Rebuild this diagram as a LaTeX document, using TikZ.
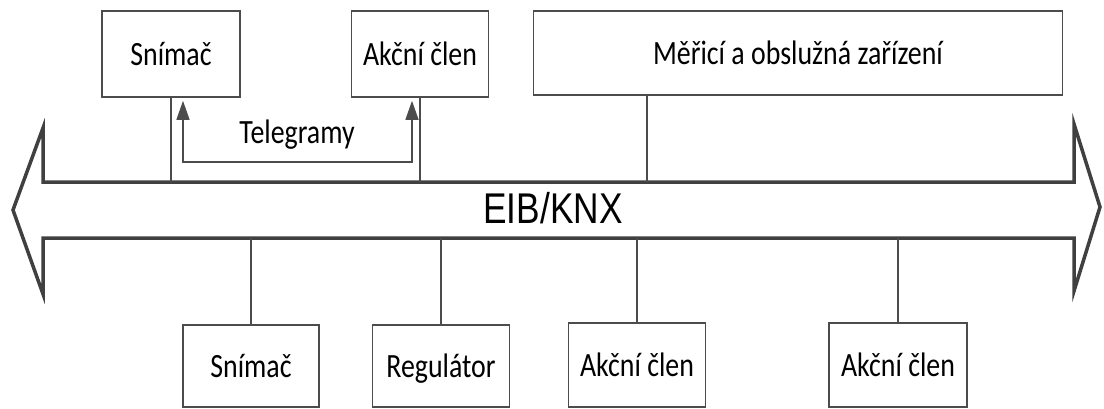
\documentclass[tikz,border=0pt]{standalone}
\usepackage{fontspec}
\setmainfont{Carlito}[FakeStretch=0.82]
\newfontfamily\busfont{Liberation Sans}[FakeStretch=0.82]
\usetikzlibrary{arrows.meta}

\begin{document}
\begin{tikzpicture}
		[x=1pt, y=-1pt,
		every node/.style={draw=black!70,line width=1.6pt,inner sep=0pt,font=\fontsize{34}{40}\selectfont},
		unit/.style={minimum width=137pt,minimum height=84pt,text height=22pt,text depth=0pt},
		link/.style={draw=black!70,line width=1.4pt},
		tele/.style={link,{Triangle[width=13pt,length=19pt]}-{Triangle[width=13pt,length=19pt]}},
		bus/.style={draw=black!75,line width=3.5pt,line join=miter}]
		\useasboundingbox (0,0) rectangle (1104,408);
		\draw[bus] (43,182) -- (43,128) -- (13,210) -- (43,294) -- (43,238) -- (1074,238)
			-- (1074,291) -- (1100,207) -- (1074,124) -- (1074,182) -- cycle;
		\coordinate (bustop) at (0,182);
		\coordinate (busbot) at (0,238);
		\node[unit,minimum width=138pt,minimum height=86pt] (s1) at (171,54) {Snímač};
		\node[unit,minimum height=86pt] (a1) at (420,54) {Akční člen};
		\node[unit,minimum width=529pt] (m) at (798,53) {Měřicí a obslužná zařízení};
		\node[unit,minimum width=136pt,minimum height=82pt] (s2) at (251,366) {Snímač};
		\node[unit,minimum height=82pt] (r) at (441,366) {Regulátor};
		\node[unit] (a2) at (637,365) {Akční člen};
		\node[unit,minimum width=138pt] (a3) at (898,365) {Akční člen};
		\node[draw=none] (tg) at (297,135) {Telegramy};
		\node[draw=none,font=\busfont\fontsize{43}{50}\selectfont] (eib) at (553,208) {EIB/KNX};
		\coordinate (tl) at (183,162);
		\coordinate (tr) at (412,162);
		\draw[link] (s1.south) -- (s1.south |- bustop);
		\draw[link] (a1.south) -- (a1.south |- bustop);
		\draw[link] ([xshift=-151pt]m.south) -- ([xshift=-151pt]m.south |- bustop);
		\foreach \n in {s2,r,a2,a3}
			\draw[link] (\n.north) -- (\n.north |- busbot);
		\draw[tele,shorten <=3pt,shorten >=3pt] (s1.south -| tl) -- (tl) -- (tr) -- (a1.south -| tr);
	\end{tikzpicture}
\end{document}
